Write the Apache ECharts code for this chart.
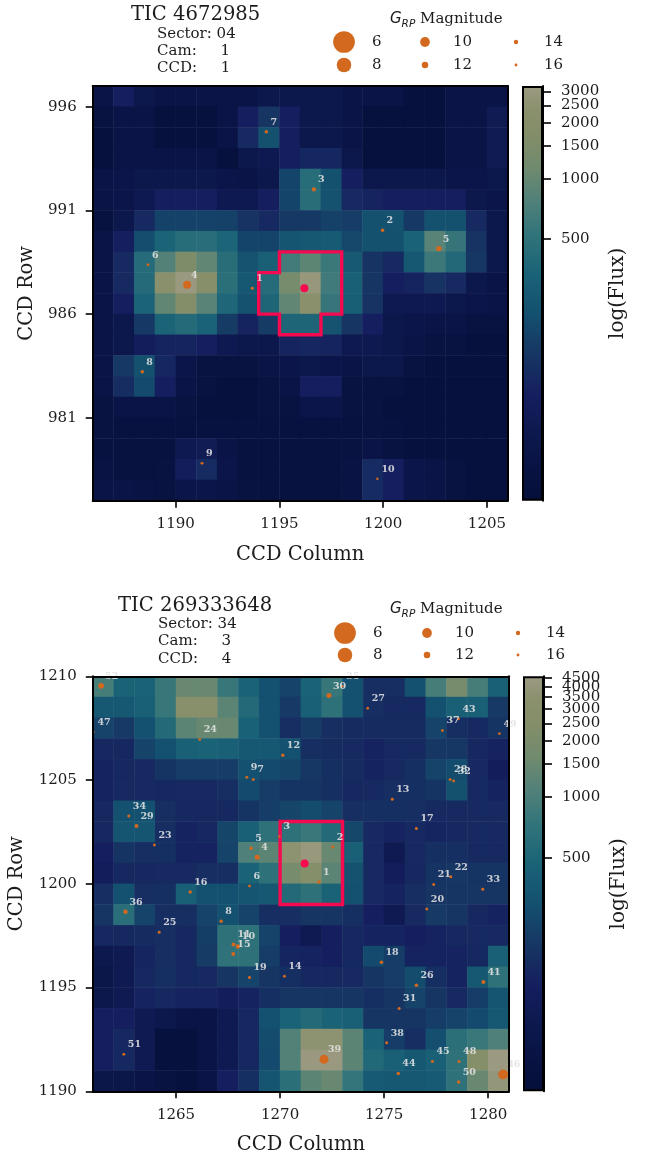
<!DOCTYPE html>
<html><head><meta charset="utf-8">
<style>html,body{margin:0;padding:0;background:#fff}#c{width:648px;height:1157px}#c canvas{filter:blur(.35px)}</style>
<script src="https://cdn.jsdelivr.net/npm/echarts@6/dist/echarts.min.js"></script>
</head><body><div id="c"></div>
<script>
// ---------- DATA: target 1 (TIC 4672985) ----------
const colsA = [1186,1187,1188,1189,1190,1191,1192,1193,1194,1195,1196,1197,1198,1199,1200,1201,1202,1203,1204,1205];
const rowsA = [996,995,994,993,992,991,990,989,988,987,986,985,984,983,982,981,980,979,978,977];
const fluxA = [
[121,148,128,121,121,121,121,121,128,128,128,128,121,121,121,114,114,121,121,121],
[118,121,121,114,114,114,121,148,184,148,128,128,121,114,114,114,114,121,121,135],
[114,121,121,114,114,114,121,164,250,148,128,128,121,114,114,114,114,121,121,135],
[114,121,121,121,121,121,114,128,133,150,160,160,128,114,114,114,114,121,121,135],
[121,124,128,128,128,128,124,121,128,215,440,250,148,128,128,128,128,124,124,128],
[121,124,133,148,148,148,133,133,148,215,450,255,164,155,148,148,148,148,128,124],
[116,128,164,210,210,210,205,180,164,190,190,205,200,250,255,190,250,250,164,128],
[121,148,240,360,440,445,365,215,215,270,280,295,225,250,250,355,850,550,180,128],
[121,164,430,800,1500,950,450,260,330,650,900,590,290,180,164,280,600,400,185,128],
[121,164,420,2200,3100,2000,470,280,430,1300,2900,640,330,184,148,154,180,164,128,121],
[121,148,360,950,1800,850,380,255,370,950,2200,560,320,180,133,133,133,128,124,121],
[121,128,190,360,420,350,195,154,195,370,370,260,184,148,128,124,121,121,118,118],
[121,128,145,154,154,150,133,128,128,154,160,154,133,133,128,121,118,118,114,114],
[121,190,250,160,124,118,118,118,121,124,128,124,121,128,128,118,114,114,114,114],
[121,170,230,150,121,118,114,114,118,121,150,148,118,118,118,114,114,114,114,114],
[118,121,121,121,118,114,114,114,118,118,124,124,118,118,114,114,114,114,114,114],
[118,116,116,116,116,116,116,116,116,116,116,116,116,118,116,114,114,114,114,114],
[116,116,116,116,133,136,121,116,116,116,116,116,118,121,118,114,114,114,114,114],
[119,116,116,118,145,165,124,116,116,116,116,116,119,165,150,124,121,118,114,114],
[121,121,119,118,124,124,121,118,116,116,116,116,119,165,148,124,121,118,114,114]
];
const starIdA  = [1,2,3,4,5,6,7,8,9,10];
const starColA = [1193.69,1199.97,1196.66,1190.55,1202.68,1188.66,1194.37,1188.39,1191.27,1199.72];
const starRowA = [987.25,990.04,992.01,987.42,989.16,988.38,994.79,983.22,978.81,978.06];
const starMagA = [15.9,15.1,14.1,11,13,15.9,15.1,15.1,15.9,16.8];
const targetA  = [1196.2,987.25];
const maskColA = [1195,1198,1198,1197,1197,1195,1195,1194,1194,1195,1195];
const maskRowA = [989,989,986,986,985,985,986,986,988,988,989];
const xTicksA = [1190,1195,1200,1205];
const yTicksA = [981,986,991,996];
const cbTicksA = [500,1000,1500,2000,2500,3000];

// ---------- DATA: target 2 (TIC 269333648) ----------
const colsB = [1261,1262,1263,1264,1265,1266,1267,1268,1269,1270,1271,1272,1273,1274,1275,1276,1277,1278,1279,1280];
const rowsB = [1209,1208,1207,1206,1205,1204,1203,1202,1201,1200,1199,1198,1197,1196,1195,1194,1193,1192,1191,1190];
const fluxB = [
[960,474,474,780,1450,1450,780,474,315,263,474,780,315,205,205,315,960,1880,960,430],
[370,370,430,780,3000,3000,1230,555,315,235,430,680,315,205,195,195,315,430,430,235],
[263,235,315,555,1230,1450,1450,450,315,205,240,205,200,200,200,200,263,205,195,220],
[190,190,263,315,430,474,430,370,370,315,205,200,195,182,195,195,225,225,190,182],
[182,190,195,220,245,245,245,315,290,275,225,209,200,182,195,209,263,300,195,165],
[182,195,195,190,195,195,205,290,245,220,220,209,190,195,205,209,220,320,195,182],
[190,315,315,205,190,190,190,220,245,275,300,263,205,209,209,205,195,195,195,195],
[190,350,350,205,182,190,275,430,680,680,790,555,280,195,182,195,185,190,195,195],
[171,220,205,209,182,182,263,1050,1230,3500,4300,1450,430,195,150,195,209,209,195,195],
[165,190,190,195,195,205,205,474,680,1880,2700,1230,330,195,165,190,220,225,220,220],
[205,315,205,209,430,315,315,350,370,555,680,474,315,195,182,205,224,224,224,224],
[224,620,263,205,205,263,315,263,205,205,224,224,209,171,150,195,235,224,190,182],
[190,190,200,205,190,250,680,680,263,171,150,171,190,182,182,171,182,190,195,195],
[143,150,185,205,190,240,700,680,245,185,182,171,190,290,245,182,182,182,190,430],
[136,150,190,209,190,195,224,263,224,209,190,190,195,224,245,300,209,182,370,680],
[141,150,182,190,182,182,165,182,209,224,224,224,224,209,224,263,224,195,245,350],
[171,171,150,141,131,131,150,190,315,474,555,474,430,224,224,224,245,263,290,370],
[171,190,150,121,121,131,150,190,300,1100,3505,3505,1230,474,245,205,310,640,790,1050],
[171,190,150,121,121,131,150,190,290,1100,4400,4400,1230,530,430,370,430,680,2684,4500],
[136,136,131,126,121,131,171,209,350,640,1230,1450,740,380,370,370,380,680,1450,4000]
];
const starIdB  = [52,47,24,12,9,7,34,29,23,5,4,3,6,16,36,25,8,11,10,15,19,14,51,30,35,27,43,37,49,28,32,13,17,2,1,22,21,33,20,18,26,31,41,38,39,44,45,48,50,46];
const starColB = [1261.40,1261.03,1266.14,1270.13,1268.40,1268.71,1262.73,1263.10,1263.96,1268.61,1268.90,1269.97,1268.53,1265.68,1262.57,1264.19,1267.17,1267.76,1267.97,1267.75,1268.53,1270.21,1262.49,1272.35,1272.99,1274.21,1278.57,1277.80,1280.54,1278.17,1278.34,1275.39,1276.55,1272.53,1271.87,1278.20,1277.38,1279.74,1277.05,1274.87,1276.55,1275.72,1279.77,1275.12,1272.11,1275.68,1277.32,1278.60,1278.58,1280.72];
const starRowB = [1209.54,1207.32,1206.96,1206.20,1205.14,1205.03,1203.27,1202.79,1201.87,1201.71,1201.28,1202.28,1199.90,1199.60,1198.65,1197.67,1198.20,1197.08,1196.98,1196.62,1195.49,1195.54,1191.79,1209.07,1209.52,1208.46,1207.95,1207.39,1207.24,1205.03,1204.95,1204.07,1202.67,1201.77,1200.09,1200.34,1199.97,1199.74,1198.78,1196.22,1195.11,1193.99,1195.27,1192.34,1191.54,1190.86,1191.44,1191.44,1190.45,1190.81];
const starMagB = [12.7,16.8,15.9,15.1,15.9,15.9,15.9,14.5,15.9,15.1,13.3,16.8,15.9,15.1,13.9,15.9,15.1,14.5,14.0,14.5,15.9,15.9,15.9,13.3,16.8,15.9,15.9,15.9,16.2,15.9,15.9,15.9,15.9,15.9,15.1,15.9,15.9,15.9,15.9,15.1,15.1,15.9,14.5,15.9,10.4,15.1,15.9,15.9,15.1,9.9];
const targetB  = [1271.18,1200.98];
const maskColB = [1270,1273,1273,1270,1270];
const maskRowB = [1203,1203,1199,1199,1203];
const xTicksB = [1265,1270,1275,1280];
const yTicksB = [1190,1195,1200,1205,1210];
const cbTicksB = [500,1000,1500,2000,2500,3000,3500,4000,4500];

// Legend
const legendMags = [6,8,10,12,14,16];

// ---------- STYLE / SCALES ----------
const SERIF = '"DejaVu Serif"';
const INK = '#1c1c1c';
const STOPS = [[0,'#050f3a'],[.15,'#0c174c'],[.25,'#151e5e'],[.35,'#163563'],[.45,'#14506f'],[.55,'#1a6377'],[.65,'#34757a'],[.72,'#4f8079'],[.8,'#6f8a6f'],[.88,'#838e68'],[.94,'#8a906c'],[1,'#9c9a82']];
function hex(c){return [1,3,5].map(i=>parseInt(c.substr(i,2),16));}
function ramp(t){for(let i=1;i<STOPS.length;i++){if(t<=STOPS[i][0]){const [a,ca]=STOPS[i-1],[b,cb]=STOPS[i];const f=(t-a)/(b-a);const A=hex(ca),B=hex(cb);return 'rgb('+A.map((v,k)=>Math.round(v+(B[k]-v)*f)).join(',')+')';}}return STOPS[STOPS.length-1][1];}
const RAMP = Array.from({length:101},(_,i)=>ramp(i/100));
const stretchA = v=>Math.max(0,Math.min(1,.18*Math.log(Math.max(v-100,1))-.448));
const stretchB = v=>Math.max(0,Math.min(1,.181*Math.log(Math.max(v-100,1))-.522));
const magSize = m=>21.7*Math.exp(-.2*(m-6));

const P = [
 {cols:colsA,rows:rowsA,flux:fluxA,id:starIdA,sx:starColA,sy:starRowA,sm:starMagA,t:targetA,mx:maskColA,my:maskRowA,xt:xTicksA,yt:yTicksA,cb:cbTicksA,st:stretchA,
  left:92.7,top:86,w:415,h:414.7,cbl:522,cbw:21,yNameGap:56,leg:{y0:[42,65],x:[344,425,516],title:[390,22]},
  title:['TIC 4672985',131,16],info:[['Sector: 04',157,35],['Cam:     1',157,52],['CCD:     1',157,69]]},
 {cols:colsB,rows:rowsB,flux:fluxB,id:starIdB,sx:starColB,sy:starRowB,sm:starMagB,t:targetB,mx:maskColB,my:maskRowB,xt:xTicksB,yt:yTicksB,cb:cbTicksB,st:stretchB,
  left:92.8,top:676.3,w:416.2,h:415,cbl:523,cbw:21,yNameGap:66,leg:{y0:[633,655],x:[345,427,518],title:[390,612]},
  title:['TIC 269333648',118,607],info:[['Sector: 34',158,625],['Cam:     3',158,642],['CCD:     4',158,660]]}
];

const grid=[],xAxis=[],yAxis=[],series=[],visualMap=[],graphic=[];
const tickStyle={show:true,length:7,lineStyle:{color:'#000',width:1.6}};
P.forEach((p,n)=>{
  const g0=grid.length;
  grid.push({left:p.left,top:p.top,width:p.w,height:p.h,containLabel:false,outerBoundsMode:'none'});
  const xCat=xAxis.length, yCat=yAxis.length;
  xAxis.push({type:'category',gridIndex:g0,data:p.cols.map(String),position:'top',z:10,boundaryGap:true,
    axisLine:{show:true,lineStyle:{color:'#000',width:2}},axisTick:{show:false},axisLabel:{show:false},splitLine:{show:false}});
  yAxis.push({type:'category',gridIndex:g0,data:p.rows.map(String),inverse:true,position:'right',z:10,boundaryGap:true,
    axisLine:{show:true,lineStyle:{color:'#000',width:2}},axisTick:{show:false},axisLabel:{show:false},splitLine:{show:false}});
  const xVal=xAxis.length, yVal=yAxis.length;
  const labelCommon={color:INK,fontFamily:SERIF,fontSize:15,hideOverlap:false};
  xAxis.push({type:'value',gridIndex:g0,position:'bottom',min:p.cols[0],max:p.cols[p.cols.length-1]+1,z:10,
    name:'CCD Column',nameLocation:'middle',nameGap:44,nameMoveOverlap:false,nameTextStyle:{color:INK,fontFamily:SERIF,fontSize:19.5},
    axisLine:{show:true,onZero:false,lineStyle:{color:'#000',width:2}},
    axisTick:Object.assign({},tickStyle,{customValues:p.xt}),
    axisLabel:Object.assign({},labelCommon,{customValues:p.xt,margin:16,formatter:v=>String(v)}),splitLine:{show:false}});
  yAxis.push({type:'value',gridIndex:g0,position:'left',min:p.rows[p.rows.length-1],max:p.rows[0]+1,z:10,
    name:'CCD Row',nameLocation:'middle',nameGap:p.yNameGap,nameMoveOverlap:false,nameRotate:90,nameTextStyle:{color:INK,fontFamily:SERIF,fontSize:19.5},
    axisLine:{show:true,onZero:false,lineStyle:{color:'#000',width:2}},
    axisTick:Object.assign({},tickStyle,{customValues:p.yt}),
    axisLabel:Object.assign({},labelCommon,{customValues:p.yt,margin:16,padding:[4,0,0,0],formatter:v=>String(v)}),splitLine:{show:false}});

  const cells=[];
  p.flux.forEach((row,r)=>row.forEach((v,c)=>cells.push([c,r,p.st(v),v])));
  visualMap.push({show:false,seriesIndex:series.length,dimension:2,min:0,max:1,inRange:{color:RAMP}});
  series.push({type:'heatmap',xAxisIndex:xCat,yAxisIndex:yCat,data:cells,z:1,progressive:0,animation:false,emphasis:{disabled:true}});
  series.push({type:'line',xAxisIndex:xVal,yAxisIndex:yVal,data:p.mx.map((x,i)=>[x,p.my[i]]),symbol:'none',z:3,silent:true,clip:true,animation:false,
    lineStyle:{color:'#f5094f',width:3.4,join:'miter',cap:'square'}});
  const stars=p.id.map((id,i)=>[p.sx[i],p.sy[i],p.sm[i],id]);
  series.push({type:'scatter',xAxisIndex:xVal,yAxisIndex:yVal,data:stars,clip:true,z:4,animation:false,silent:true,
    symbolSize:v=>magSize(v[2]),itemStyle:{color:'#d2691e',opacity:1}});
  series.push({type:'scatter',xAxisIndex:xVal,yAxisIndex:yVal,data:stars,clip:true,z:6,animation:false,silent:true,
    symbolSize:1,itemStyle:{color:'transparent'},
    label:{show:true,position:'right',distance:3.5,offset:[0,-9.5],formatter:o=>String(o.value[3]),color:'rgba(228,228,228,.88)',fontFamily:SERIF,fontSize:9.5,fontWeight:'bold',opacity:1}});
  series.push({type:'scatter',xAxisIndex:xVal,yAxisIndex:yVal,data:[p.t],clip:true,z:5,animation:false,silent:true,symbolSize:8,itemStyle:{color:'#f5094f',opacity:1}});

  const gc=grid.length;
  grid.push({left:p.cbl,top:p.top,width:p.cbw,height:p.h,outerBoundsMode:'none'});
  const xc=xAxis.length,yc=yAxis.length;
  xAxis.push({type:'category',gridIndex:gc,data:['flux'],show:false});
  const cbT=p.cb.map(p.st);
  yAxis.push({type:'value',gridIndex:gc,position:'right',min:0,max:1,z:10,
    name:'log(Flux)',nameLocation:'middle',nameGap:65,nameMoveOverlap:false,nameRotate:90,nameTextStyle:{color:INK,fontFamily:SERIF,fontSize:20},
    axisLine:{show:true,onZero:false,lineStyle:{color:'#000',width:2}},
    axisTick:{show:true,length:8,lineStyle:{color:'#000',width:1.6},customValues:cbT},
    // the trailing blank entry keeps the library's max-label de-overlap from hiding a real tick label
    axisLabel:Object.assign({},labelCommon,{customValues:cbT.concat([1]),showMaxLabel:false,margin:18,padding:[2,0,0,0],formatter:(v)=>{
      if(v>=1)return '';let best=p.cb[0];p.cb.forEach((b,i)=>{if(Math.abs(cbT[i]-v)<Math.abs(p.st(best)-v))best=b;});return String(best);}}),
    splitLine:{show:false}});
  series.push({type:'bar',xAxisIndex:xc,yAxisIndex:yc,data:[1],barWidth:'100%',z:2,animation:false,silent:true,
    itemStyle:{opacity:1,borderColor:'#000',borderWidth:2,color:{type:'linear',x:0,y:1,x2:0,y2:0,colorStops:STOPS.map(s=>({offset:s[0],color:s[1]}))}}});

  const gl=grid.length, lx0=330,lx1=570, ly0=p.leg.y0[0]-14, ly1=p.leg.y0[1]+14;
  grid.push({left:lx0,top:ly0,width:lx1-lx0,height:ly1-ly0,outerBoundsMode:'none'});
  const xl=xAxis.length,yl=yAxis.length;
  xAxis.push({type:'value',gridIndex:gl,min:lx0,max:lx1,show:false});
  yAxis.push({type:'value',gridIndex:gl,min:ly0,max:ly1,inverse:true,show:false});
  const key=legendMags.map((m,i)=>[p.leg.x[Math.floor(i/2)],p.leg.y0[i%2],m]);
  series.push({type:'scatter',xAxisIndex:xl,yAxisIndex:yl,data:key,clip:false,z:4,animation:false,silent:true,
    symbolSize:v=>magSize(v[2]),itemStyle:{color:'#d2691e',opacity:1}});
  series.push({type:'scatter',xAxisIndex:xl,yAxisIndex:yl,data:key,clip:false,z:4,animation:false,silent:true,symbolSize:1,itemStyle:{color:'transparent'},
    label:{show:true,position:'right',distance:27.5,formatter:o=>String(o.value[2]),color:INK,fontFamily:SERIF,fontSize:15,opacity:1}});

  graphic.push({type:'text',left:p.title[1],top:p.title[2]-11,silent:true,style:{text:p.title[0],fill:INK,font:'19.6px '+SERIF}});
  p.info.forEach(t=>graphic.push({type:'text',left:t[1],top:t[2]-8,silent:true,style:{text:t[0],fill:INK,font:'15px '+SERIF}}));
  graphic.push({type:'text',left:p.leg.title[0],top:p.leg.title[1]-10,silent:true,style:{
    text:'{g|G}{s|RP}{m| Magnitude}',fill:INK,
    rich:{g:{fontFamily:'"DejaVu Sans"',fontStyle:'italic',fontSize:15,fill:INK,lineHeight:20},
          s:{fontFamily:'"DejaVu Sans"',fontStyle:'italic',fontSize:10.5,fill:INK,lineHeight:20,verticalAlign:'bottom'},
          m:{fontFamily:SERIF,fontSize:15,fill:INK,lineHeight:20}}}});
});

const chart=echarts.init(document.getElementById('c'),null,{renderer:'canvas'});
chart.setOption({animation:false,backgroundColor:'#fff',tooltip:{show:false},grid,xAxis,yAxis,series,visualMap,graphic});
</script></body></html>
